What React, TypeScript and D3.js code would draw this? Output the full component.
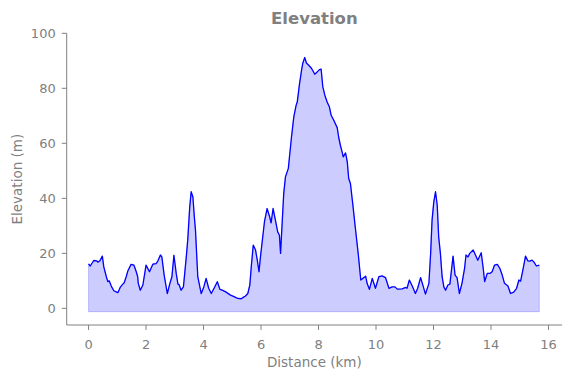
import React from "react";
import * as d3 from "d3";

const distanceKm: number[] = [
  0.0, 0.06, 0.18, 0.28, 0.32, 0.39, 0.48, 0.53, 0.62, 0.67, 0.72, 0.79, 0.88, 0.98, 1.02, 1.1, 1.19, 1.24, 1.31, 1.37,
  1.48, 1.58, 1.66, 1.71, 1.73, 1.8, 1.89, 2.0, 2.12, 2.24, 2.35, 2.41, 2.5, 2.55, 2.63, 2.74, 2.83, 2.9, 2.97, 3.05,
  3.11, 3.15, 3.22, 3.3, 3.4, 3.45, 3.52, 3.57, 3.63, 3.68, 3.72, 3.8, 3.92, 4.01, 4.09, 4.18, 4.27, 4.38, 4.48, 4.57,
  4.65, 4.77, 4.94, 5.08, 5.19, 5.31, 5.38, 5.46, 5.54, 5.61, 5.66, 5.73, 5.81, 5.87, 5.93, 5.98, 6.04, 6.12, 6.21, 6.3,
  6.35, 6.42, 6.5, 6.58, 6.64, 6.68, 6.74, 6.79, 6.85, 6.95, 6.99, 7.06, 7.14, 7.22, 7.26, 7.34, 7.41, 7.45, 7.52, 7.58,
  7.66, 7.76, 7.87, 7.95, 8.03, 8.09, 8.15, 8.22, 8.3, 8.38, 8.44, 8.53, 8.65, 8.7, 8.76, 8.82, 8.86, 8.94, 9.0, 9.05,
  9.11, 9.19, 9.29, 9.38, 9.47, 9.54, 9.64, 9.69, 9.77, 9.87, 9.98, 10.1, 10.21, 10.33, 10.45, 10.56, 10.66, 10.74, 10.91, 11.03,
  11.08, 11.16, 11.26, 11.37, 11.45, 11.55, 11.64, 11.72, 11.84, 11.9, 11.95, 12.01, 12.07, 12.13, 12.18, 12.24, 12.3, 12.36, 12.42, 12.5,
  12.57, 12.68, 12.75, 12.82, 12.9, 12.99, 13.08, 13.13, 13.2, 13.26, 13.38, 13.46, 13.54, 13.66, 13.73, 13.78, 13.87, 13.96, 14.04, 14.12,
  14.22, 14.31, 14.39, 14.47, 14.59, 14.68, 14.79, 14.89, 14.97, 15.03, 15.12, 15.2, 15.28, 15.35, 15.43, 15.49, 15.58, 15.68,
];

const elevationM: number[] = [
  16.2, 15.4, 17.4, 17.3, 16.8, 17.2, 19.0, 15.1, 11.5, 9.7, 10.0, 8.1, 6.4, 5.9, 5.7, 7.6, 8.8, 9.3, 11.5, 13.7,
  16.0, 15.7, 13.3, 11.5, 9.1, 6.6, 8.5, 15.7, 13.3, 16.1, 16.3, 17.2, 19.4, 18.7, 12.1, 5.4, 9.1, 11.5, 19.3, 12.7,
  8.8, 8.6, 6.6, 7.8, 18.7, 24.8, 36.9, 42.4, 40.5, 33.3, 28.4, 11.5, 5.4, 7.8, 10.9, 7.3, 5.4, 7.6, 9.7, 6.9,
  6.6, 6.0, 4.8, 4.2, 3.6, 3.5, 4.0, 4.5, 5.4, 8.5, 15.1, 23.0, 21.2, 17.5, 13.3, 18.7, 24.2, 31.5, 36.3, 33.3,
  31.1, 36.3, 32.1, 27.8, 26.6, 20.0, 32.1, 41.8, 47.8, 50.9, 55.1, 62.3, 69.6, 73.8, 75.0, 81.7, 86.6, 89.0, 91.2, 89.2,
  88.4, 87.2, 85.1, 85.9, 86.8, 87.0, 80.5, 77.5, 75.0, 73.2, 70.2, 68.4, 65.7, 62.3, 59.3, 56.9, 55.1, 56.5, 53.3, 47.2,
  45.4, 38.1, 28.4, 20.0, 10.3, 10.9, 11.7, 9.1, 6.9, 10.9, 7.3, 11.5, 11.8, 11.2, 7.3, 7.8, 7.8, 7.0, 7.1, 7.6,
  7.3, 10.3, 8.1, 5.4, 7.3, 11.2, 8.1, 5.2, 9.1, 20.0, 32.1, 38.7, 42.4, 37.5, 26.0, 20.0, 11.5, 7.8, 6.6, 8.5,
  8.8, 19.0, 12.1, 11.2, 5.4, 9.1, 14.5, 19.4, 18.7, 20.0, 21.2, 19.4, 17.5, 20.2, 14.5, 9.7, 12.7, 12.7, 13.3, 15.7,
  16.0, 14.5, 12.1, 9.1, 8.1, 5.4, 5.9, 7.3, 10.3, 9.9, 14.5, 19.0, 17.3, 17.2, 17.5, 16.9, 15.4, 15.7,
];

const xTicks: number[] = [0, 2, 4, 6, 8, 10, 12, 14, 16];
const yTicks: number[] = [0, 20, 40, 60, 80, 100];
const fillBase = -1.2;

const W = 571;
const H = 378;
const left = 66.7;
const right = 562;
const top = 33.3;
const bottom = 325;
const gray = "#808080";
const font = "DejaVu Sans, sans-serif";

export default function App() {
  const x = d3.scaleLinear().domain([-0.76, 16.47]).range([left, right]);
  const y = d3.scaleLinear().domain([-6.05, 100]).range([bottom, top]);
  const pts: [number, number][] = distanceKm.map((d, i) => [d, elevationM[i]]);
  const line = d3
    .line<[number, number]>()
    .x((d) => x(d[0]))
    .y((d) => y(d[1]));
  const area = d3
    .area<[number, number]>()
    .x((d) => x(d[0]))
    .y0(() => y(fillBase))
    .y1((d) => y(d[1]));

  return (
    <svg
      width={W}
      height={H}
      style={{ position: "absolute", left: 0, top: 0, background: "#fff" }}
      fontFamily={font}
    >
      <path d={area(pts) || ""} fill="rgba(0,0,255,0.2)" stroke="rgba(0,0,255,0.2)" strokeWidth={1} />
      <path d={line(pts) || ""} fill="none" stroke="#0000ff" strokeWidth={1.3} strokeLinejoin="round" />

      <line x1={left} x2={left} y1={top} y2={bottom} stroke={gray} strokeWidth={1} />
      <line x1={left} x2={right} y1={bottom} y2={bottom} stroke={gray} strokeWidth={1} />

      {yTicks.map((t) => (
        <g key={"y" + t}>
          <line x1={left - 4.9} x2={left} y1={y(t)} y2={y(t)} stroke={gray} strokeWidth={1} />
          <text x={left - 11} y={y(t)} textAnchor="end" dominantBaseline="central" fontSize={13} fill={gray}>
            {t}
          </text>
        </g>
      ))}
      {xTicks.map((t) => (
        <g key={"x" + t}>
          <line x1={x(t)} x2={x(t)} y1={bottom} y2={bottom + 4.9} stroke={gray} strokeWidth={1} />
          <text x={x(t)} y={bottom + 19.5} textAnchor="middle" dominantBaseline="central" fontSize={13} fill={gray}>
            {t}
          </text>
        </g>
      ))}

      <text x={(left + right) / 2} y={362} textAnchor="middle" dominantBaseline="central" fontSize={13.5} fill={gray}>
        Distance (km)
      </text>
      <text
        transform={`translate(16.5,${(top + bottom) / 2}) rotate(-90)`}
        textAnchor="middle"
        dominantBaseline="central"
        fontSize={13.5}
        fill={gray}
      >
        Elevation (m)
      </text>
      <text x={(left + right) / 2} y={18} textAnchor="middle" dominantBaseline="central" fontSize={16.5} fontWeight="bold" fill={gray}>
        Elevation
      </text>
    </svg>
  );
}
